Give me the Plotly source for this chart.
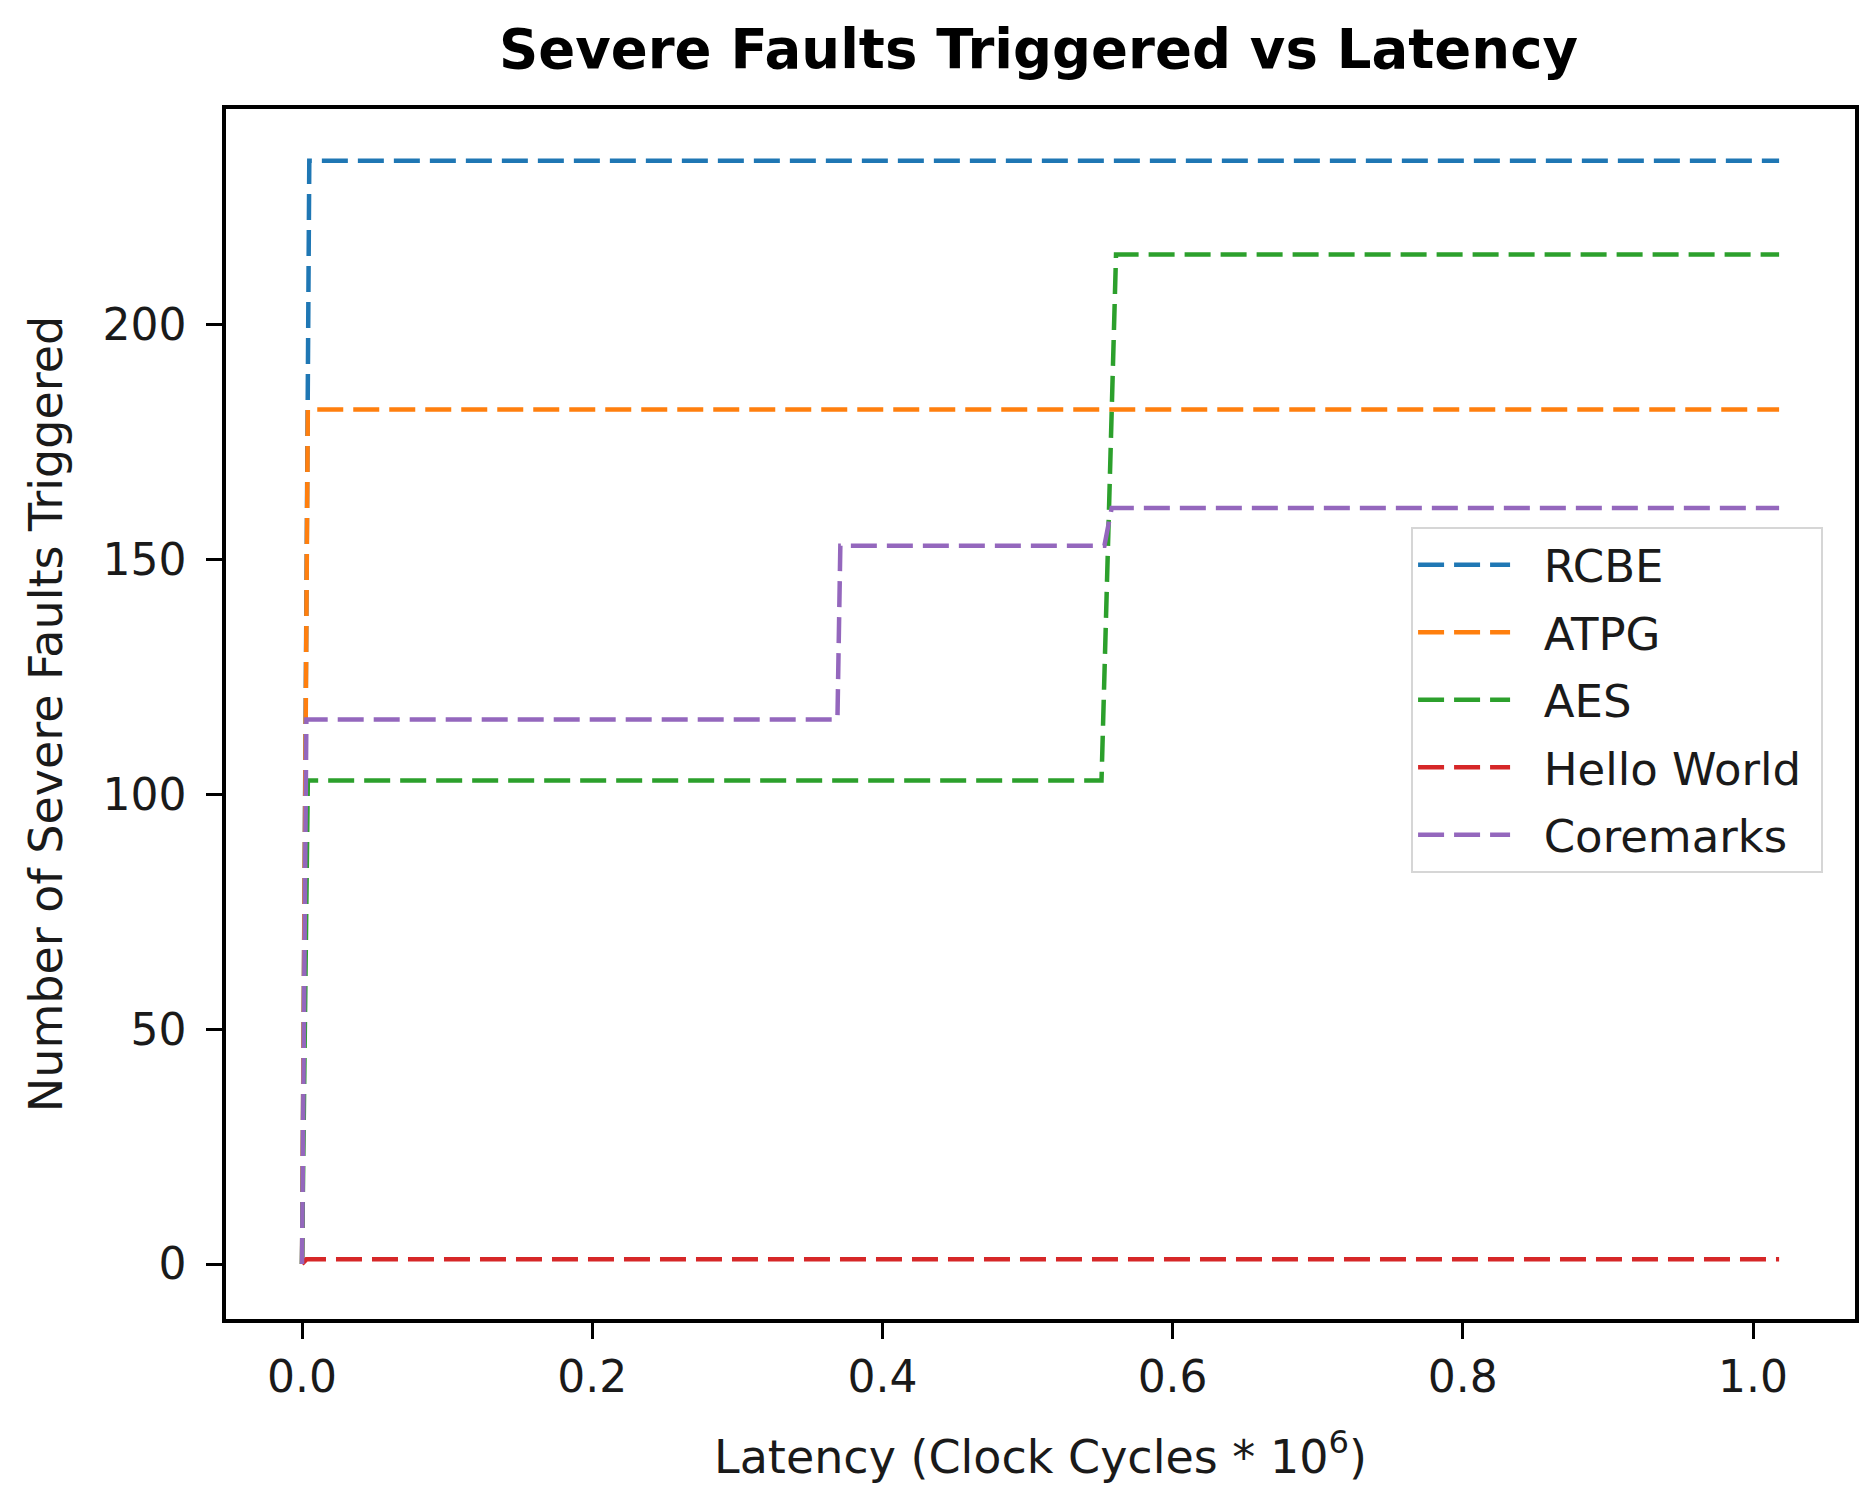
import plotly.graph_objects as go

# Data (latency in clock cycles * 1e6, severe faults triggered)
rcbe_x = [0.0, 0.005, 1.018]
rcbe_y = [0, 235, 235]

atpg_x = [0.0, 0.004, 1.018]
atpg_y = [0, 182, 182]

aes_x = [0.0, 0.004, 0.551, 0.561, 1.018]
aes_y = [0, 103, 103, 215, 215]

hello_x = [0.0, 0.003, 1.018]
hello_y = [0, 1, 1]

core_x = [0.0, 0.003, 0.369, 0.371, 0.553, 0.558, 1.018]
core_y = [0, 116, 116, 153, 153, 161, 161]

names = ["RCBE", "ATPG", "AES", "Hello World", "Coremarks"]
colors = ["#1f77b4", "#ff7f0e", "#2ca02c", "#d62728", "#9467bd"]
series = [(rcbe_x, rcbe_y), (atpg_x, atpg_y), (aes_x, aes_y),
          (hello_x, hello_y), (core_x, core_y)]

x_ticks = [0.0, 0.2, 0.4, 0.6, 0.8, 1.0]
y_ticks = [0, 50, 100, 150, 200]

FONT = "DejaVu Sans"
NB = "\u00a0"

fig = go.Figure()
for i, ((xs, ys), n, c) in enumerate(zip(series, names, colors)):
    fig.add_trace(go.Scatter(
        x=xs, y=ys, mode="lines", name=NB * 2 + n + NB, legendgroup=f"g{i}",
        line=dict(color=c, width=4.5, dash="26px,10px"),
    ))

W, H = 1869, 1487
L, R, T, B = 218, 22, 101, 176

fig.update_layout(
    width=W, height=H,
    margin=dict(l=L, r=R, t=T, b=B, autoexpand=False),
    plot_bgcolor="white", paper_bgcolor="white",
    font=dict(family=FONT, size=44, color="#1a1a1a"),
    title=dict(text="<b>Severe Faults Triggered vs Latency</b>",
               x=1030.5 / W, xanchor="center",
               y=1 - 41 / H, yanchor="middle",
               font=dict(family=FONT, size=54.5, color="black")),
    legend=dict(
        x=0.9804, xanchor="right", y=0.6546, yanchor="top",
        bgcolor="white", bordercolor="#d6d6d6", borderwidth=2,
        font=dict(family=FONT, size=45, color="#1a1a1a"),
        itemwidth=92, tracegroupgap=6,
    ),
    showlegend=True,
)

fig.update_xaxes(
    range=[-0.0524, 1.0703], automargin=False,
    tickvals=x_ticks, ticktext=[f"{v:.1f}" for v in x_ticks],
    showgrid=False, zeroline=False,
    showline=True, linecolor="black", linewidth=3.5, mirror=True,
    ticks="outside", ticklen=16, tickwidth=3, tickcolor="black",
    ticklabelstandoff=0,
    title=dict(text="Latency (Clock Cycles * 10<sup>6</sup>)", standoff=41,
               font=dict(family=FONT, size=46)),
)
fig.update_yaxes(
    range=[-11.7, 246.0], automargin=False,
    tickvals=y_ticks, ticktext=[str(v) for v in y_ticks],
    showgrid=False, zeroline=False,
    showline=True, linecolor="black", linewidth=3.5, mirror=True,
    ticks="outside", ticklen=16, tickwidth=3, tickcolor="black",
    ticklabelstandoff=11,
    title=dict(text="Number of Severe Faults Triggered", standoff=26,
               font=dict(family=FONT, size=46)),
)

fig.write_html("out.html")
